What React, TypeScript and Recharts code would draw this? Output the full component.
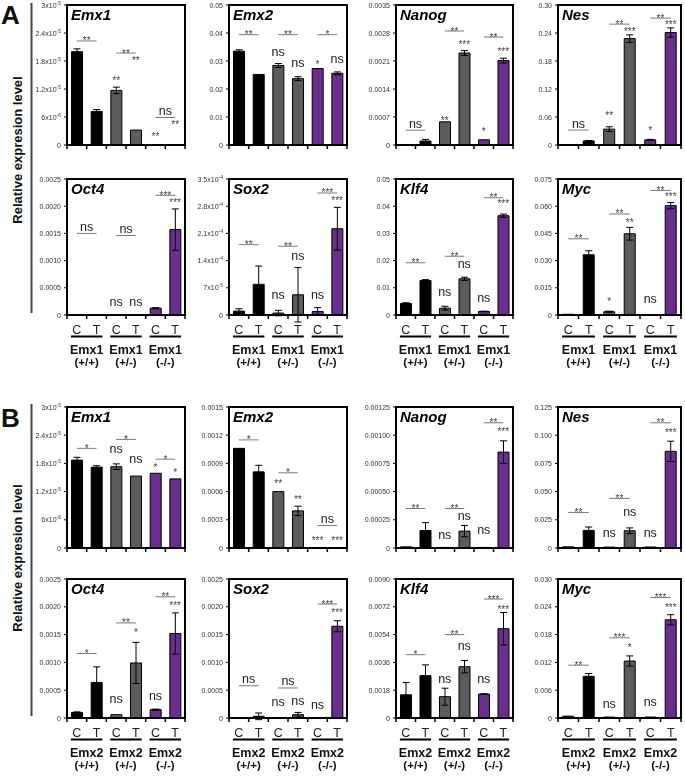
import React from "react";
import {
  BarChart,
  Bar,
  XAxis,
  YAxis,
  Cell,
  ErrorBar,
  ReferenceLine,
  ReferenceDot,
  ReferenceArea,
} from "recharts";

const FONT = 'Arial, "Liberation Sans", Helvetica, sans-serif';

const CATS = ["C1", "T1", "C2", "T2", "C3", "T3"];
const BAR_COLORS = ["#000000", "#000000", "#5c5c5c", "#5c5c5c", "#6b2d90", "#6b2d90"];
const GENOTYPES = ["(+/+)", "(+/-)", "(-/-)"];

// tick labels
const T_SCI_3E5 = ["0", "6x10-6", "1.2x10-5", "1.8x10-5", "2.4x10-5", "3x10-5"];
const T_005 = ["0", "0.01", "0.02", "0.03", "0.04", "0.05"];
const T_00035 = ["0", "0.0007", "0.0014", "0.0021", "0.0028", "0.0035"];
const T_030 = ["0", "0.06", "0.12", "0.18", "0.24", "0.30"];
const T_00025 = ["0", "0.0005", "0.0010", "0.0015", "0.0020", "0.0025"];
const T_SCI_35E4 = ["0", "7x10-5", "1.4x10-4", "2.1x10-4", "2.8x10-4", "3.5x10-4"];
const T_0075 = ["0", "0.015", "0.030", "0.045", "0.060", "0.075"];
const T_00015 = ["0", "0.0003", "0.0006", "0.0009", "0.0012", "0.0015"];
const T_000125 = ["0", "0.00025", "0.00050", "0.00075", "0.00100", "0.00125"];
const T_0125 = ["0", "0.025", "0.050", "0.075", "0.100", "0.125"];
const T_0009 = ["0", "0.0018", "0.0036", "0.0054", "0.0072", "0.0090"];
const T_003 = ["0", "0.006", "0.012", "0.018", "0.024", "0.030"];

type Panel = {
  gene: string;
  max: number;
  ticks: string[];
  v: number[];
  e: number[];
  marks: string[];
  markY: number[];
  brY: number[];
  brT: string[];
};

const mk = (
  gene: string, max: number, ticks: string[], v: number[], e: number[],
  marks: string[], markY: number[], brY: number[], brT: string[]
): Panel => ({ gene, max, ticks, v, e, marks, markY, brY, brT });

// ---- section A (Emx1 genotypes)
const A_EMX1 = mk("Emx1", 3e-5, T_SCI_3E5,
  [2.0e-5, 7.2e-6, 1.17e-5, 3.2e-6, 0, 0],
  [0.6e-6, 0.4e-6, 0.7e-6, 0, 0, 0],
  ["", "", "**", "**", "**", "**"],
  [0, 0, 1.42e-5, 1.86e-5, 2.2e-6, 4.9e-6],
  [2.23e-5, 1.97e-5, 5.9e-6], ["**", "**", "ns"]);
const A_EMX2 = mk("Emx2", 0.05, T_005,
  [0.0335, 0.0252, 0.0284, 0.0237, 0.0273, 0.0256],
  [0.0005, 0, 0.0007, 0.0007, 0, 0.0005],
  ["", "", "ns", "ns", "*", "ns"],
  [0, 0, 0.0328, 0.029, 0.0296, 0.0303],
  [0.0394, 0.0394, 0.0394], ["**", "**", "*"]);
const A_NANOG = mk("Nanog", 0.0035, T_00035,
  [0, 0.0001, 0.00058, 0.0023, 0.00013, 0.00211],
  [0, 0.00004, 0, 0.00006, 0, 0.00006],
  ["", "", "**", "***", "*", "***"],
  [0, 0, 0.00066, 0.00257, 0.0004, 0.0024],
  [0.00037, 0.00285, 0.0027], ["ns", "**", "**"]);
const A_NES = mk("Nes", 0.3, T_030,
  [0, 0.0087, 0.034, 0.228, 0.011, 0.241],
  [0, 0.001, 0.005, 0.008, 0.001, 0.01],
  ["", "", "**", "***", "*", "***"],
  [0, 0, 0.067, 0.249, 0.036, 0.262],
  [0.032, 0.259, 0.272], ["ns", "**", "**"]);
const A_OCT4 = mk("Oct4", 0.0025, T_00025,
  [0, 0, 0, 0, 0.000125, 0.00157],
  [0, 0, 0, 0, 0.00001, 0.00038],
  ["", "", "ns", "ns", "", "***"],
  [0, 0, 0.00023, 0.00023, 0, 0.00211],
  [0.0015, 0.00146, 0.0022], ["ns", "ns", "***"]);
const A_SOX2 = mk("Sox2", 3.5e-4, T_SCI_35E4,
  [1.0e-5, 7.9e-5, 0.5e-5, 5.2e-5, 0.9e-5, 2.22e-4],
  [0.6e-5, 4.7e-5, 0.7e-5, 7.0e-5, 1.0e-5, 0.55e-4],
  ["", "", "ns", "ns", "ns", "***"],
  [0, 0, 4.9e-5, 1.5e-4, 4.9e-5, 3.0e-4],
  [1.81e-4, 1.77e-4, 3.14e-4], ["**", "**", "***"]);
const A_KLF4 = mk("Klf4", 0.05, T_005,
  [0.0042, 0.0127, 0.0025, 0.0133, 0.0013, 0.0365],
  [0.0003, 0.0003, 0.0007, 0.0006, 0.0001, 0.0006],
  ["", "", "ns", "ns", "ns", "***"],
  [0, 0, 0.0081, 0.0184, 0.0059, 0.0417],
  [0.0192, 0.0216, 0.0431], ["**", "**", "**"]);
const A_MYC = mk("Myc", 0.075, T_0075,
  [0.0004, 0.0332, 0.0018, 0.0448, 0, 0.0603],
  [0, 0.0022, 0.0003, 0.0035, 0, 0.0017],
  ["", "", "*", "**", "ns", "***"],
  [0, 0, 0.0087, 0.052, 0.0087, 0.0663],
  [0.042, 0.0557, 0.0687], ["**", "**", "**"]);

// ---- section B (Emx2 genotypes)
const B_EMX1 = mk("Emx1", 3e-5, T_SCI_3E5,
  [1.87e-5, 1.72e-5, 1.73e-5, 1.53e-5, 1.59e-5, 1.47e-5],
  [0.6e-6, 0.3e-6, 0.6e-6, 0, 0, 0],
  ["", "", "ns", "ns", "*", "*"],
  [0, 0, 2.1e-5, 1.87e-5, 1.76e-5, 1.66e-5],
  [2.12e-5, 2.31e-5, 1.89e-5], ["*", "*", "*"]);
const B_EMX2 = mk("Emx2", 0.0015, T_00015,
  [0.00106, 0.00081, 0.0006, 0.000395, 0, 0],
  [0, 0.00007, 0, 0.00005, 0, 0],
  ["", "", "**", "**", "***", "***"],
  [0, 0, 0.00071, 0.00054, 0.0001, 0.0001],
  [0.00115, 0.0008, 0.00024], ["*", "*", "ns"]);
const B_NANOG = mk("Nanog", 0.00125, T_000125,
  [0.00001, 0.000155, 0.000005, 0.00015, 0.000005, 0.00085],
  [0, 0.00007, 0, 0.00005, 0, 0.0001],
  ["", "", "ns", "ns", "ns", "***"],
  [0, 0, 0.00011, 0.00028, 0.00015, 0.00105],
  [0.00035, 0.00035, 0.00111], ["**", "**", "**"]);
const B_NES = mk("Nes", 0.125, T_0125,
  [0.001, 0.0156, 0.0008, 0.0153, 0.0009, 0.0857],
  [0, 0.003, 0, 0.0025, 0, 0.009],
  ["", "", "ns", "ns", "ns", "***"],
  [0, 0, 0.0128, 0.0315, 0.0128, 0.1044],
  [0.0315, 0.044, 0.111], ["**", "**", "**"]);
const B_OCT4 = mk("Oct4", 0.0025, T_00025,
  [0.0001, 0.00064, 0.00006, 0.00099, 0.00015, 0.00152],
  [0.00001, 0.00028, 0, 0.00037, 0.00001, 0.00037],
  ["", "", "ns", "*", "ns", "***"],
  [0, 0, 0.00033, 0.00158, 0.00039, 0.00206],
  [0.00116, 0.00171, 0.00218], ["*", "**", "**"]);
const B_SOX2 = mk("Sox2", 0.0025, T_00025,
  [0, 0.00003, 0, 0.00006, 0, 0.00165],
  [0, 0.00006, 0, 0.00004, 0, 0.0001],
  ["", "", "ns", "ns", "ns", "***"],
  [0, 0, 0.00027, 0.0003, 0.00023, 0.00193],
  [0.00058, 0.00054, 0.00205], ["ns", "ns", "***"]);
const B_KLF4 = mk("Klf4", 0.009, T_0009,
  [0.0015, 0.00274, 0.00138, 0.00332, 0.00155, 0.00578],
  [0.0008, 0.0007, 0.00055, 0.0004, 0.00002, 0.00105],
  ["", "", "ns", "ns", "ns", "***"],
  [0, 0, 0.0025, 0.0046, 0.0025, 0.0072],
  [0.0041, 0.0054, 0.0077], ["*", "**", "***"]);
const B_MYC = mk("Myc", 0.03, T_003,
  [0.0004, 0.009, 0.0002, 0.0123, 0.0002, 0.0212],
  [0, 0.0006, 0, 0.0011, 0, 0.0011],
  ["", "", "ns", "*", "ns", "***"],
  [0, 0, 0.0029, 0.0156, 0.0033, 0.0244],
  [0.0114, 0.0173, 0.026], ["**", "***", "***"]);

// layout of plot boxes
const COLS = [
  { x: 67, w: 118 },
  { x: 229, w: 118 },
  { x: 396, w: 117 },
  { x: 558, w: 123 },
];
const ROWS = [
  { y: 5, h: 140, labels: false, group: "Emx1", panels: [A_EMX1, A_EMX2, A_NANOG, A_NES] },
  { y: 179, h: 136, labels: true, group: "Emx1", panels: [A_OCT4, A_SOX2, A_KLF4, A_MYC] },
  { y: 407, h: 141, labels: false, group: "Emx2", panels: [B_EMX1, B_EMX2, B_NANOG, B_NES] },
  { y: 579, h: 139, labels: true, group: "Emx2", panels: [B_OCT4, B_SOX2, B_KLF4, B_MYC] },
];

function YTick(props: any) {
  const { x, y, index, labels } = props;
  const s: string = labels[index] ?? "";
  const m = s.match(/^(.*x10)(-\d+)$/);
  return (
    <text x={x} y={y} dy={2.5} textAnchor="end" fontSize={7} fill="#333" fontFamily={FONT}>
      {m ? (
        <>
          {m[1]}
          <tspan dy={-3} fontSize={5}>{m[2]}</tspan>
        </>
      ) : (
        s
      )}
    </text>
  );
}

// category tick: edge tick marks between bars, plus C/T and genotype labels
function CatTick(props: any) {
  const { x, y, index, bw, group, show } = props;
  const left = x - bw / 2;
  const isC = index % 2 === 0;
  return (
    <g fontFamily={FONT}>
      <line x1={left} x2={left} y1={y} y2={y + 4} stroke="#000" strokeWidth={1.5} />
      {index === 5 && <line x1={left + bw} x2={left + bw} y1={y} y2={y + 4} stroke="#000" strokeWidth={1.5} />}
      {show && (
        <text x={x} y={y + 19} textAnchor="middle" fontSize={12.5} fill="#222">
          {isC ? "C" : "T"}
        </text>
      )}
      {show && isC && (
        <>
          <line x1={x - 0.3 * bw} x2={x + 1.3 * bw} y1={y + 21.5} y2={y + 21.5} stroke="#000" strokeWidth={2} />
          <text x={x + bw / 2} y={y + 38.5} textAnchor="middle" fontSize={12.5} fontWeight={700} fill="#111">
            {group}
          </text>
          <text x={x + bw / 2} y={y + 51} textAnchor="middle" fontSize={11.5} fontWeight={700} fill="#111">
            {GENOTYPES[index / 2]}
          </text>
        </>
      )}
    </g>
  );
}

const bracketLabel = (t: string) => (props: any) => {
  const vb = props.viewBox || { x: 0, y: 0, width: 0 };
  const cx = vb.x + (vb.width || 0) / 2;
  const star = t.includes("*");
  return (
    <text
      x={cx}
      y={star ? vb.y + 3.5 : vb.y - 2.5}
      textAnchor="middle"
      fontSize={star ? 10 : 12.5}
      fill={star ? "#444" : "#222"}
      fontFamily={FONT}
    >
      {t}
    </text>
  );
};

const markLabel = (t: string) => (props: any) => {
  const vb = props.viewBox || { x: 0, y: 0, width: 0, height: 0 };
  const cx = vb.x + (vb.width || 0) / 2;
  const cy = vb.y + (vb.height || 0) / 2;
  const star = t.includes("*");
  return (
    <text
      x={cx}
      y={star ? cy + 5.7 : cy + 3.3}
      textAnchor="middle"
      fontSize={star ? 10 : 12.5}
      fill={star ? "#444" : "#222"}
      fontFamily={FONT}
    >
      {t}
    </text>
  );
};

function PanelChart({ p, col, row }: { p: Panel; col: { x: number; w: number }; row: any }) {
  const bottom = row.labels ? 60 : 8;
  const W = 50 + col.w + 6;
  const H = 8 + row.h + bottom;
  const data = CATS.map((k, i) => ({ k, v: p.v[i], e: p.e[i] }));
  const tickVals = p.ticks.map((_, i) => (p.max * i) / (p.ticks.length - 1));
  const bw = col.w / 6;

  return (
    <div style={{ position: "absolute", left: col.x - 50, top: row.y - 8, willChange: "transform" }}>
      <BarChart
        width={W}
        height={H}
        data={data}
        margin={{ top: 8, right: 6, left: 0, bottom: 0 }}
        barCategoryGap="23%"
      >
        <XAxis
          dataKey="k"
          type="category"
          interval={0}
          height={bottom}
          tickSize={0}
          tickMargin={0}
          tickLine={false}
          axisLine={{ stroke: "#000", strokeWidth: 2 }}
          tick={(t: any) => <CatTick {...t} bw={bw} group={row.group} show={row.labels} />}
        />
        <YAxis
          type="number"
          domain={[0, p.max]}
          allowDataOverflow
          ticks={tickVals}
          interval={0}
          width={50}
          tickSize={3}
          tickMargin={3}
          axisLine={{ stroke: "#000", strokeWidth: 2 }}
          tickLine={{ stroke: "#000" }}
          tick={(t: any) => <YTick {...t} labels={p.ticks} />}
        />
        <Bar dataKey="v" isAnimationActive={false} stroke="#000" strokeWidth={1}>
          {data.map((d, i) => (
            <Cell key={d.k} fill={BAR_COLORS[i]} />
          ))}
          <ErrorBar dataKey="e" width={3.5} stroke="#000" strokeWidth={1} direction="y" />
        </Bar>
        {p.brY.map((y, j) => (
          <ReferenceLine
            key={"br" + j}
            segment={[
              { x: CATS[2 * j], y },
              { x: CATS[2 * j + 1], y },
            ]}
            stroke="#7a7a7a"
            strokeWidth={1}
            ifOverflow="visible"
            label={bracketLabel(p.brT[j])}
          />
        ))}
        {p.marks.map((m, i) =>
          m ? (
            <ReferenceDot
              key={"mk" + i}
              x={CATS[i]}
              y={p.markY[i]}
              r={0}
              fill="none"
              stroke="none"
              ifOverflow="visible"
              label={markLabel(m)}
            />
          ) : null
        )}
        <ReferenceArea
          y1={0}
          y2={p.max}
          fill="none"
          stroke="#000"
          strokeWidth={2}
          ifOverflow="visible"
          label={{
            value: p.gene,
            position: "insideTopLeft",
            offset: 4,
            fontSize: 15,
            fontWeight: 700,
            fontStyle: "italic",
            fill: "#000",
            fontFamily: FONT,
          }}
        />
      </BarChart>
    </div>
  );
}

export default function App() {
  return (
    <div
      style={{
        position: "absolute",
        left: 0,
        top: 0,
        width: 685,
        height: 776,
        background: "#fff",
        fontFamily: FONT,
        overflow: "hidden",
      }}
    >
      <svg width={685} height={776} style={{ position: "absolute", left: 0, top: 0 }}>
        <g fontFamily={FONT} fontWeight={700} fill="#111">
          <text x={1} y={24} fontSize={26}>A</text>
          <text x={1} y={427} fontSize={26}>B</text>
          <text x={21.5} y={150} fontSize={13} textAnchor="middle" transform="rotate(-90 21.5 150)">
            Relative expresion level
          </text>
          <text x={21.5} y={558} fontSize={13} textAnchor="middle" transform="rotate(-90 21.5 558)">
            Relative expresion level
          </text>
        </g>
        <line x1={31.5} x2={31.5} y1={3} y2={313} stroke="#444" strokeWidth={2} />
        <line x1={31.5} x2={31.5} y1={404} y2={716} stroke="#444" strokeWidth={2} />
      </svg>
      {ROWS.map((row, r) =>
        row.panels.map((p, c) => <PanelChart key={r + "-" + c} p={p} col={COLS[c]} row={row} />)
      )}
    </div>
  );
}
